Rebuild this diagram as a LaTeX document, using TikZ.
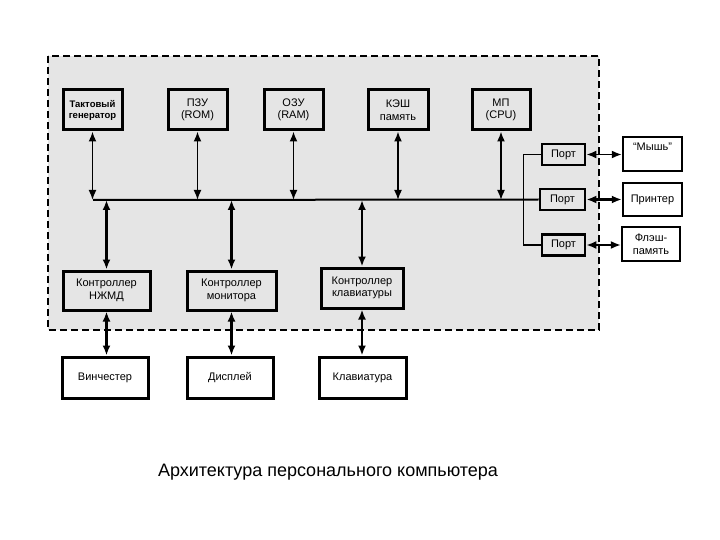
\documentclass[tikz,border=0pt]{standalone}
\usepackage{fontspec}
\setmainfont{Liberation Sans}
\usetikzlibrary{arrows.meta}
\begin{document}
\begin{tikzpicture}
		[x=1pt,y=-1pt,
		box/.style={draw,line width=3pt,fill=white,align=center,inner sep=1pt,
			font=\fontsize{11}{12.5}\selectfont},
		unit/.style={box,fill=gray!20},
		port/.style={unit,line width=2.8pt,minimum width=43pt,minimum height=21pt},
		dev/.style={box,line width=2.4pt,minimum width=59pt,minimum height=34pt},
		link/.style={{Latex[length=10pt,width=8pt]}-{Latex[length=10pt,width=8pt]},line width=1.7pt},
		biglink/.style={link,line width=2.8pt}]
		\useasboundingbox (0,0) rectangle (720,540);
		% system unit
		\draw[dash pattern=on 7pt off 4pt,line width=2.2pt,fill=gray!20] (48,56) rectangle (599,330);
		% top row
		\node[unit,minimum width=59pt,minimum height=40pt,font=\bfseries\fontsize{9.5}{11}\selectfont] (gen) at (92.5,110) {Тактовый\\генератор};
		\node[unit,minimum width=59pt,minimum height=40pt] (rom) at (197.5,110) {ПЗУ\\(ROM)};
		\node[unit,minimum width=59pt,minimum height=40pt] (ram) at (293.5,110) {ОЗУ\\(RAM)};
		\node[unit,minimum width=60pt,minimum height=40pt] (cache) at (398,110) {КЭШ\\память};
		\node[unit,minimum width=58pt,minimum height=40pt] (cpu) at (501,110) {МП\\(CPU)};
		% ports
		\node[port] (port1) at (563.5,154.5) {Порт};
		\node[port,minimum width=45pt] (port2) at (562.5,199.5) {Порт};
		\node[port] (port3) at (563.5,245) {Порт};
		% controllers
		\node[unit,minimum width=87pt,minimum height=39pt] (ctlhdd) at (106.5,290.5) {Контроллер\\НЖМД};
		\node[unit,minimum width=89pt,minimum height=39pt] (ctlmon) at (231.5,290.5) {Контроллер\\монитора};
		\node[unit,minimum width=82pt,minimum height=40pt] (ctlkbd) at (362,288) {Контроллер\\клавиатуры};
		% devices
		\node[box,minimum width=86pt,minimum height=41pt] (hdd) at (105,377.5) {Винчестер};
		\node[box,minimum width=86pt,minimum height=41pt] (disp) at (230,377.5) {Дисплей};
		\node[box,minimum width=87pt,minimum height=41pt] (kbd) at (362.5,377.5) {Клавиатура};
		\node[dev,text height=8pt,text depth=14pt] (mouse) at (652.5,154) {“Мышь”};
		\node[dev,minimum height=33pt] (printer) at (652.5,199.5) {Принтер};
		\node[dev,minimum width=58pt] (flash) at (651,244) {Флэш-\\память};
		% bus
		\coordinate (bus) at (93,200);
		\draw[line width=2pt] (bus) -- (port2.west);
		\draw[line width=1.7pt] (port1.west) -- ++(-17,0) |- (port3.west);
		\foreach \n in {gen,rom,ram,cache,cpu}
			\draw[link] (\n) -- (\n |- bus);
		\foreach \n in {ctlhdd,ctlmon,ctlkbd}
			\draw[biglink] (\n |- bus) -- (\n);
		\draw[biglink] (ctlhdd.south) -- (ctlhdd.south |- hdd.north);
		\draw[biglink] (ctlmon.south) -- (ctlmon.south |- disp.north);
		\draw[biglink] (ctlkbd.south) -- (ctlkbd.south |- kbd.north);
		\draw[link] (port1.east) -- (mouse.west |- port1.east);
		\draw[biglink] (port2.east) -- (printer.west |- port2.east);
		\draw[link] (port3.east) -- (flash.west |- port3.east);
		% caption
		\node[font=\fontsize{18}{21}\selectfont] (title) at (328,472) {Архитектура персонального компьютера};
	\end{tikzpicture}
\end{document}
